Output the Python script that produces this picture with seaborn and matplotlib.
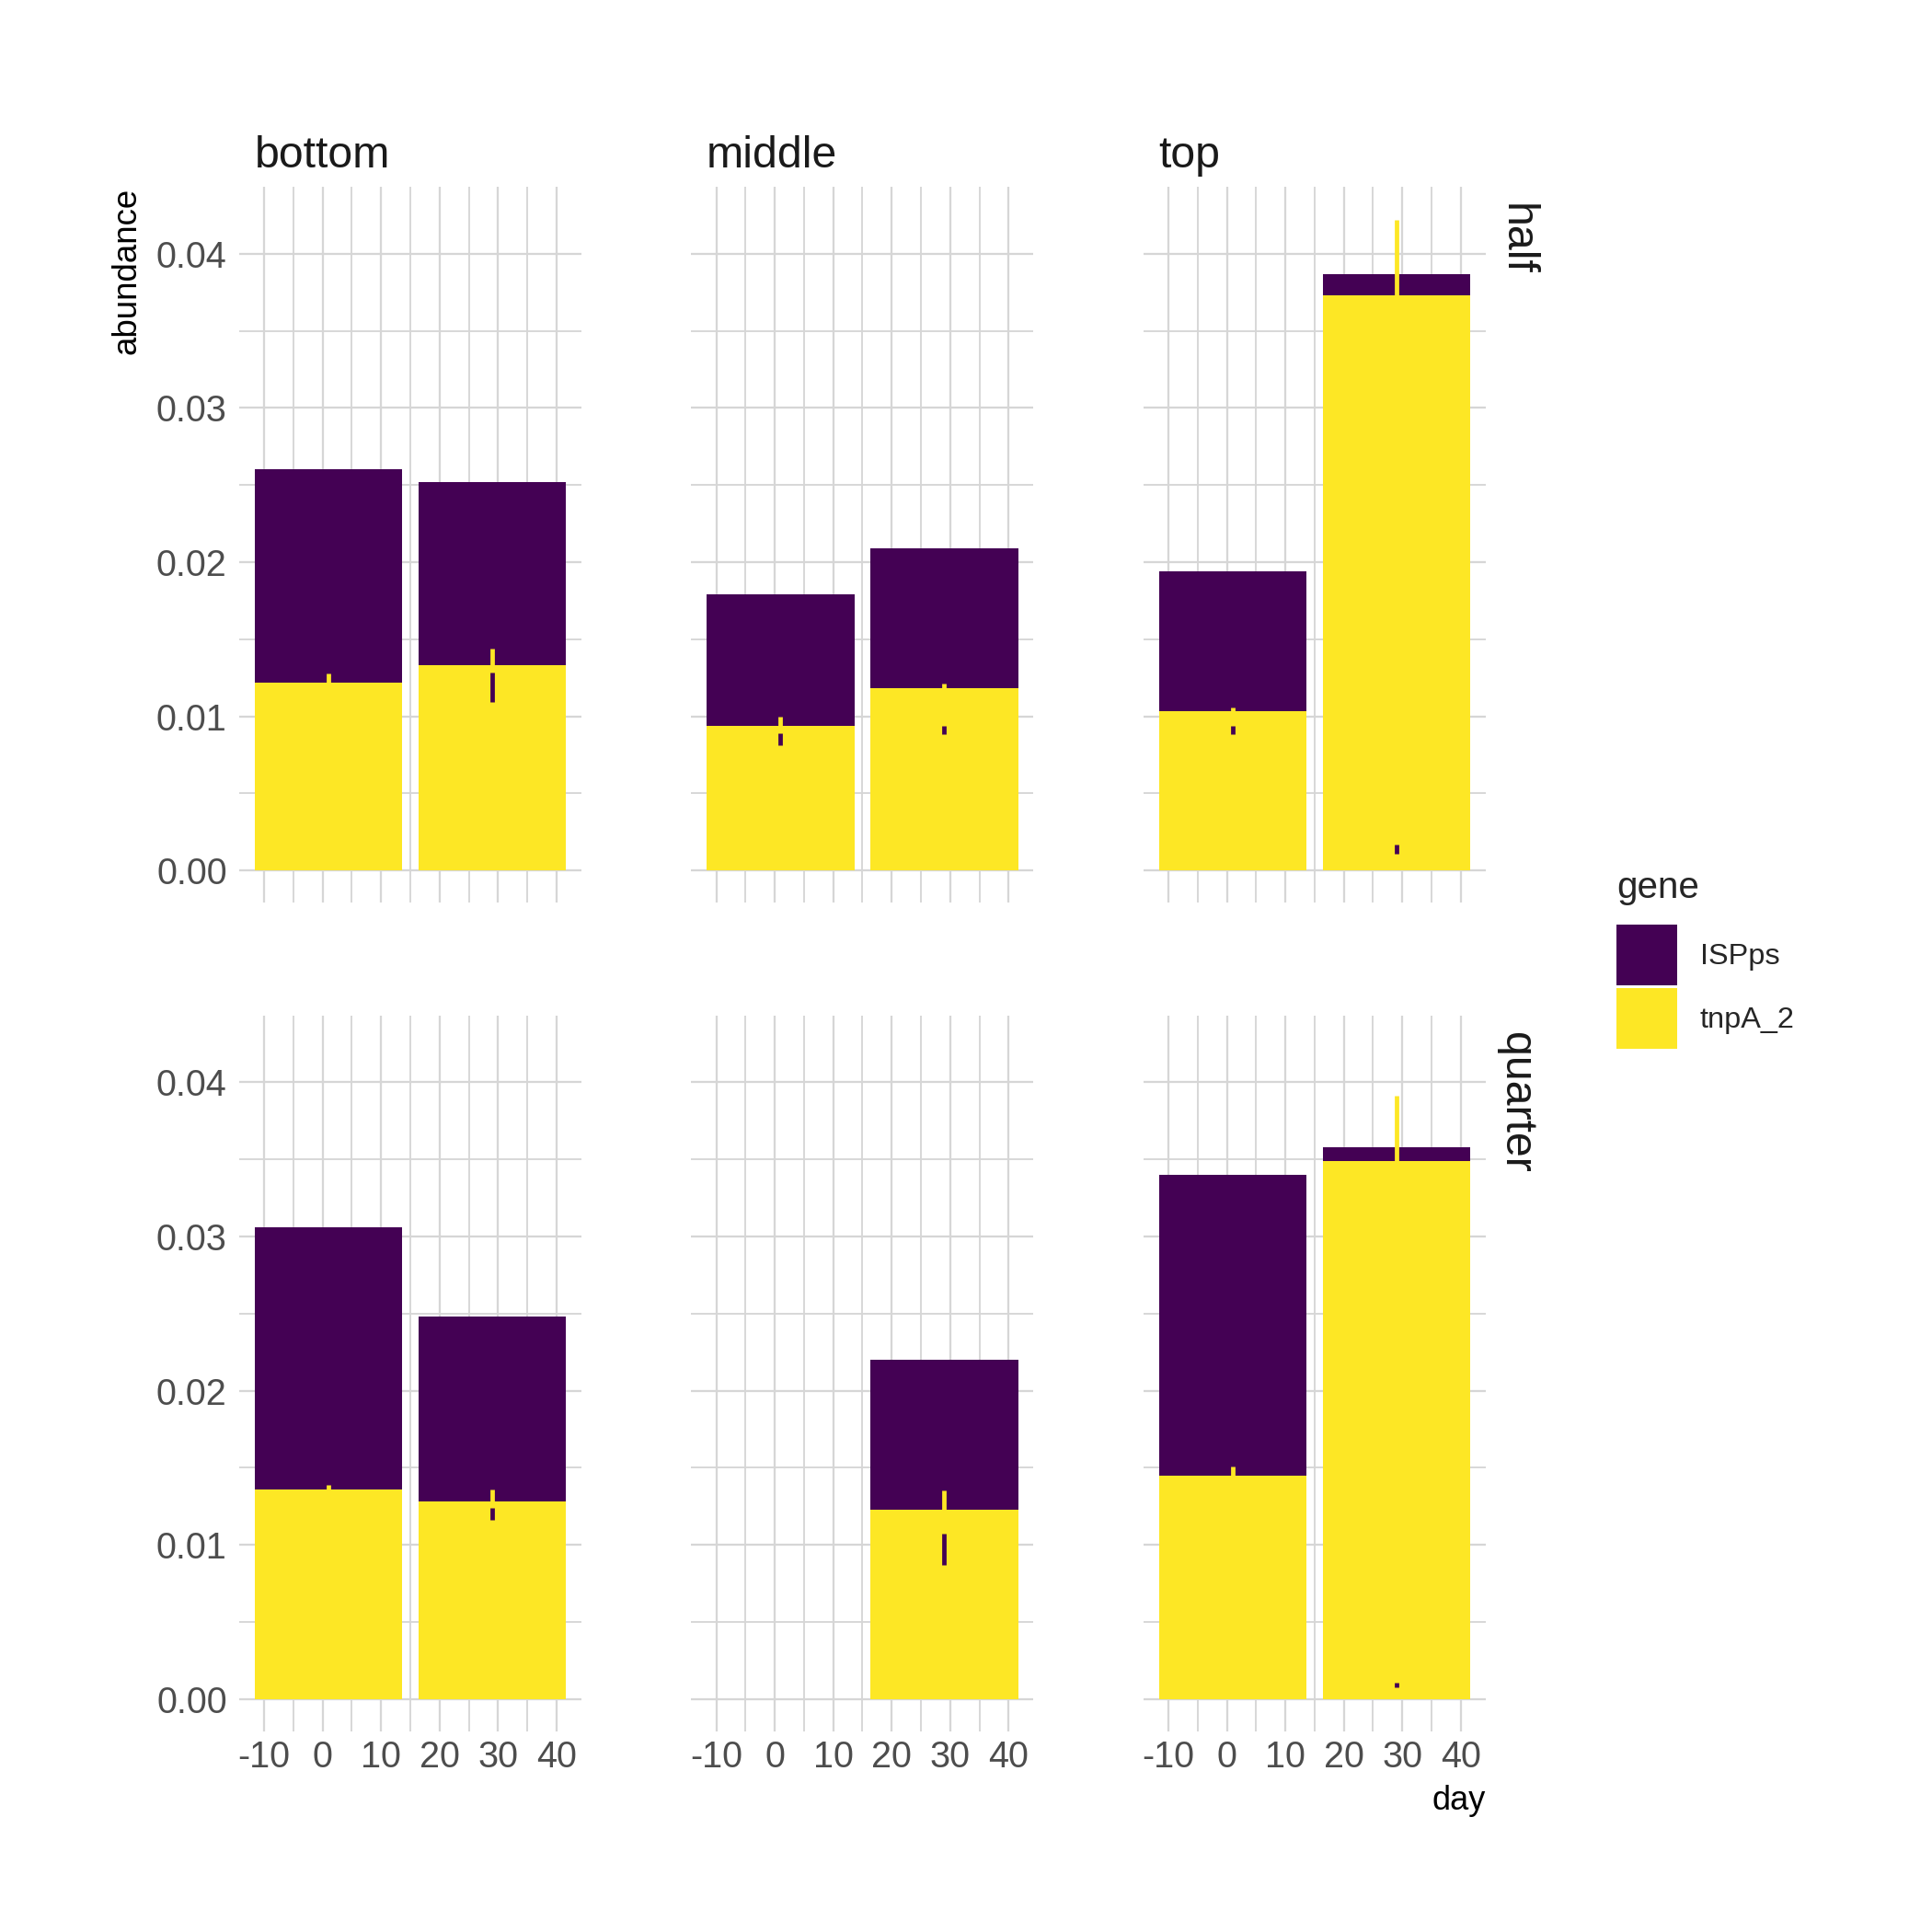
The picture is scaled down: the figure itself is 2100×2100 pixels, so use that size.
import numpy as np
import pandas as pd
import matplotlib
matplotlib.use("Agg")
import matplotlib.pyplot as plt
from matplotlib.patches import Patch
from matplotlib.ticker import MultipleLocator, FuncFormatter
import seaborn as sns

# summary values per facet (mean +- se)
fraction = ['half'] * 6 + ['quarter'] * 5
position = ['bottom', 'bottom', 'middle', 'middle', 'top', 'top',
            'bottom', 'bottom', 'middle', 'top', 'top']
day = [1, 29, 1, 29, 1, 29, 1, 29, 29, 1, 29]
ispps_mean = [0.0138, 0.0119, 0.0085, 0.0091, 0.0091, 0.0014,
              0.0170, 0.0120, 0.0097, 0.0195, 0.0009]
ispps_se = [0.0007, 0.00095, 0.00038, 0.00025, 0.00025, 0.0003,
            0.0006, 0.0004, 0.0010, 0.0008, 0.00017]
tnpa_mean = [0.0122, 0.0133, 0.0094, 0.0118, 0.0103, 0.0373,
             0.0136, 0.0128, 0.0123, 0.0145, 0.0349]
tnpa_se = [0.0006, 0.0011, 0.0006, 0.0003, 0.00026, 0.0049,
           0.0003, 0.0008, 0.0012, 0.0006, 0.0042]

col_levels = ['bottom', 'middle', 'top']
row_levels = ['half', 'quarter']
genes = ['ISPps', 'tnpA_2']
gene_colors = {'ISPps': '#440154', 'tnpA_2': '#FDE725'}

df = pd.DataFrame({'fraction': fraction, 'position': position, 'day': day,
                   'ISPps': ispps_mean, 'ISPps_se': ispps_se,
                   'tnpA_2': tnpa_mean, 'tnpA_2_se': tnpa_se})
df['total'] = df['ISPps'] + df['tnpA_2']

sns.set_theme(style="white")
plt.rcParams['font.family'] = ['Liberation Sans', 'DejaVu Sans']
plt.rcParams['axes.unicode_minus'] = False

fig, axes = plt.subplots(2, 3, figsize=(7, 7), dpi=300, sharex=True, sharey=True)
fig.subplots_adjust(left=0.1238, right=0.7690, top=0.9033, bottom=0.1038,
                    wspace=0.321, hspace=0.157)

# bar width in data units: 0.9 * resolution of day
bar_w = 0.9 * np.min(np.diff(np.unique(df['day'])))
grid_c = '#D6D6D6'

for i, fr in enumerate(row_levels):
    for j, pos in enumerate(col_levels):
        ax = axes[i, j]
        sub = df[(df.fraction == fr) & (df.position == pos)]
        u = np.unique(sub['day'])
        step = np.min(np.diff(u)) if len(u) > 1 else 1
        # stacked: total in purple, tnpA_2 on top of it in yellow
        sns.barplot(data=sub, x='day', y='total', native_scale=True, color=gene_colors['ISPps'],
                    saturation=1, width=bar_w / step, errorbar=None, ax=ax, linewidth=0)
        sns.barplot(data=sub, x='day', y='tnpA_2', native_scale=True, color=gene_colors['tnpA_2'],
                    saturation=1, width=bar_w / step, errorbar=None, ax=ax, linewidth=0)
        for g in ['tnpA_2', 'ISPps']:
            ax.vlines(sub['day'], sub[g] - sub[g + '_se'], sub[g] + sub[g + '_se'],
                      color=gene_colors[g], lw=1.15, zorder=5)

        ax.set_xlim(-14.26, 44.26)
        ax.set_ylim(-0.00211, 0.04434)
        ax.xaxis.set_major_locator(MultipleLocator(10))
        ax.xaxis.set_minor_locator(MultipleLocator(5))
        ax.yaxis.set_major_locator(MultipleLocator(0.01))
        ax.yaxis.set_minor_locator(MultipleLocator(0.005))
        ax.xaxis.set_major_formatter(FuncFormatter(lambda v, p: f'{v:.0f}'))
        ax.yaxis.set_major_formatter(FuncFormatter(lambda v, p: f'{v:.2f}'))
        ax.grid(True, which='major', color=grid_c, lw=0.55)
        ax.grid(True, which='minor', color=grid_c, lw=0.45)
        ax.set_axisbelow(True)
        for s in ax.spines.values():
            s.set_visible(False)
        ax.tick_params(which='both', length=0, labelsize=9.5, labelcolor='#4D4D4D')
        ax.tick_params(axis='y', pad=3.2)
        ax.tick_params(axis='x', pad=2.2)
        ax.tick_params(labelbottom=(i == 1), labelleft=(j == 0))
        ax.set_xlabel('')
        ax.set_ylabel('')

        if i == 0:
            ax.annotate(pos, xy=(0, 1), xycoords='axes fraction', xytext=(4.0, 5),
                        textcoords='offset points', ha='left', va='baseline',
                        fontsize=11.6, color='#1A1A1A')
        if j == 2:
            ax.annotate(fr, xy=(1, 1), xycoords='axes fraction', xytext=(7.9, -4.4),
                        textcoords='offset points', ha='center', va='top',
                        rotation=270, fontsize=11.6, color='#1A1A1A')

fig.text(138 / 2100, 1 - 204 / 2100, 'abundance', rotation=90, ha='center', va='top',
         fontsize=8.8, color='black')
fig.text(1615 / 2100, 1 - 1967 / 2100, 'day', ha='right', va='baseline',
         fontsize=8.7, color='black')

handles = [Patch(facecolor=gene_colors[g], edgecolor='none', label=g) for g in genes]
leg = fig.legend(handles=handles, title='gene', loc='upper left',
                 bbox_to_anchor=(1757 / 2100, 1 - 946 / 2100), frameon=False,
                 fontsize=7.8, title_fontsize=9.7, handlelength=2.03, handleheight=2.75,
                 labelspacing=0.1, handletextpad=0.77, borderpad=0, borderaxespad=0,
                 alignment='left')
leg._legend_box.sep = 5.0

fig.savefig('out.png', dpi=300)
